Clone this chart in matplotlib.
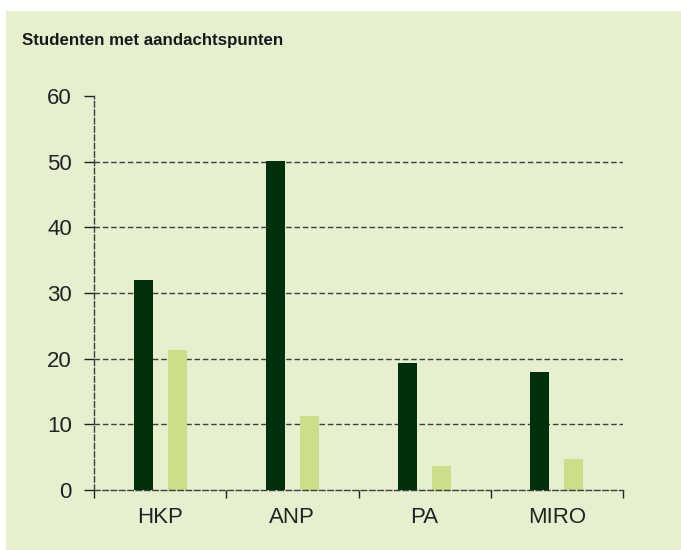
import matplotlib
matplotlib.use("Agg")
import matplotlib.pyplot as plt
import numpy as np

categories = ["HKP", "ANP", "PA", "MIRO"]
series_dark = [32.0, 50.1, 19.3, 18.0]
series_light = [21.3, 11.3, 3.7, 4.7]
y_ticks = [0, 10, 20, 30, 40, 50, 60]
title = "Studenten met aandachtspunten"

BG = "#e6f0cf"
DARK = "#002f0c"
LIGHT = "#ccdf88"
GRID = "#3c3c3c"

plt.rcParams['font.family'] = ['Liberation Sans', 'DejaVu Sans']

W, H = 681, 550
fig = plt.figure(figsize=(W / 100, H / 100), dpi=100)
fig.patch.set_facecolor("white")

bg = fig.add_axes([6 / W, 0, 1 - 6 / W, 1 - 11 / H], zorder=0)
bg.set_facecolor(BG)
bg.set_xticks([])
bg.set_yticks([])
for s in bg.spines.values():
    s.set_visible(False)

left, right = 94 / W, 623 / W
bottom, top = (H - 490) / H, (H - 96) / H
ax = fig.add_axes([left, bottom, right - left, top - bottom], zorder=1)
ax.set_facecolor("none")

x = np.arange(len(categories))
bw = 19 / 132
off = 17 / 132
ax.bar(x - off, series_dark, width=bw, color=DARK, zorder=3)
ax.bar(x + off, series_light, width=bw, color=LIGHT, zorder=3)

ax.set_xlim(-0.5, len(categories) - 0.5)
ax.set_ylim(0, 60)

for v in y_ticks[1:-1]:
    ax.axhline(v, color=GRID, lw=1.0, ls=(0, (4, 2)), zorder=1)

for s in ["top", "right"]:
    ax.spines[s].set_visible(False)
ax.spines["left"].set_linestyle((0, (4, 2)))
ax.spines["bottom"].set_linestyle((0, (4, 2)))
for s in ["left", "bottom"]:
    ax.spines[s].set_color(GRID)
    ax.spines[s].set_linewidth(1.0)
    ax.spines[s].set_zorder(4)

ax.set_yticks(y_ticks)
ax.set_yticklabels([str(v) for v in y_ticks])
ax.tick_params(axis="y", length=7, width=1, color="#222222", labelsize=16,
               labelcolor="#222222", pad=9)

ax.set_xticks(np.arange(-0.5, len(categories)), minor=False)
ax.set_xticklabels([])
ax.tick_params(axis="x", which="major", length=6, width=1, color="#222222", direction="out")
ax.set_xticks(x, minor=True)
ax.set_xticklabels(categories, minor=True)
ax.tick_params(axis="x", which="minor", length=0, labelsize=16, labelcolor="#222222", pad=12)

fig.text(22 / W, 1 - 40 / H, title, fontsize=12.2, fontweight="bold", color="#1a1a1a",
         ha="left", va="center")

fig.savefig("out.png", dpi=100, facecolor=fig.get_facecolor())
